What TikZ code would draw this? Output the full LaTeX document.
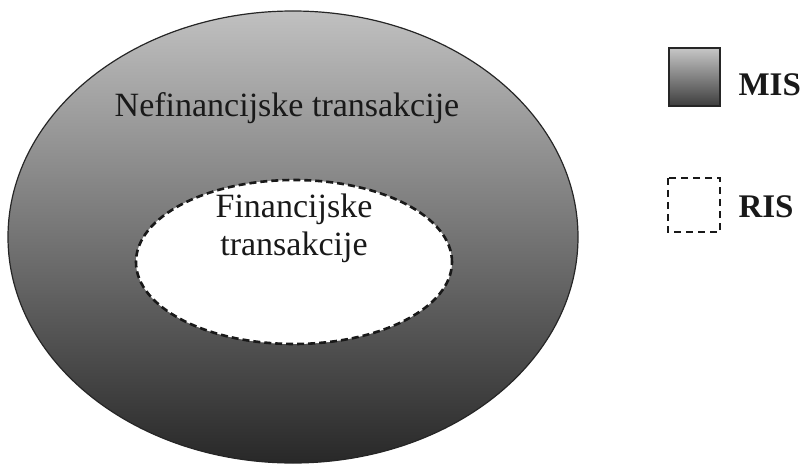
\documentclass[tikz,border=0pt]{standalone}
\usepackage{fontspec}
\setmainfont{Liberation Serif}
\usepackage{xcolor}
\usetikzlibrary{shapes.geometric}
\definecolor{hell}{RGB}{192,192,192}
\definecolor{dunkel}{RGB}{40,40,40}
\tikzset{
  ring/.style={ellipse, draw=black!85, line width=1.2pt, inner sep=0pt,
    top color=hell, bottom color=dunkel},
  kern/.style={ellipse, draw=black!90, fill=white, line width=2.6pt,
    dash pattern=on 7pt off 4pt, inner sep=0pt},
  txt/.style={font=\fontsize{34}{38}\selectfont, text=black!90, align=center},
  legtxt/.style={font=\fontsize{33}{38}\selectfont\bfseries, text=black!90, anchor=base west}
}

\begin{document}
\begin{tikzpicture}[x=1pt,y=-1pt]
  \useasboundingbox (0,0) rectangle (801,468);

  % Ellipsen
  \node[ring, minimum width=570pt, minimum height=452pt] (mis) at (293,237) {};
  \node[kern, minimum width=316pt, minimum height=164pt] (ris) at (294,262) {};

  % Texte
  \node[txt, anchor=base] (nefin) at (287,117) {Nefinancijske transakcije};
  \node[txt, anchor=base] (fin1) at (294,217) {Financijske};
  \node[txt, anchor=base] (fin2) at (294,255) {transakcije};

  % Legende
  \draw[draw=black!85, line width=2.2pt, top color=hell!90!white, bottom color=dunkel!90!white]
    (669,48) rectangle (720,106);
  \node[legtxt] (mislab) at (735,96) {MIS};
  \draw[black!90, line width=2.6pt, dash pattern=on 7pt off 5pt] (668,178) rectangle (720,232);
  \node[legtxt] (rislab) at (735,217) {RIS};

\end{tikzpicture}
\end{document}
